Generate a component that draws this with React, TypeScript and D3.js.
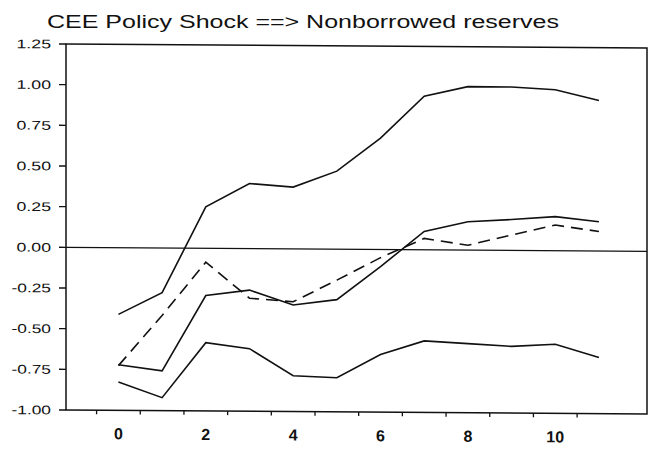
import React from "react";
import * as d3 from "d3";

const periods = [0, 1, 2, 3, 4, 5, 6, 7, 8, 9, 10, 11];
const upperBand = [-0.41, -0.275, 0.255, 0.4, 0.38, 0.48, 0.685, 0.945, 1.005, 1.005, 0.99, 0.925];
const pointEstimate = [-0.72, -0.755, -0.29, -0.255, -0.345, -0.31, -0.105, 0.113, 0.175, 0.19, 0.21, 0.18];
const alternative = [-0.725, -0.415, -0.085, -0.305, -0.325, -0.19, -0.05, 0.07, 0.03, 0.095, 0.158, 0.12];
const lowerBand = [-0.825, -0.92, -0.58, -0.615, -0.78, -0.79, -0.645, -0.56, -0.575, -0.59, -0.575, -0.655];
const yTicks = [1.25, 1.0, 0.75, 0.5, 0.25, 0.0, -0.25, -0.5, -0.75, -1.0];
const xLabels = [0, 2, 4, 6, 8, 10];
const xMinorTicks = [-0.5, 0.5, 1.5, 2.5, 3.5, 4.5, 5.5, 6.5, 7.5, 8.5, 9.5, 10.5];
const title = "CEE Policy Shock ==> Nonborrowed reserves";

const W = 656;
const H = 449;
const left = 66;
const right = 647;
const top = 44;
const bottom = 410;
const skewDeg = 0.4;

export default function App() {
  const x = d3.scaleLinear().domain([-1.2, 12.1]).range([left, right]);
  const y = d3.scaleLinear().domain([-1, 1.25]).range([bottom, top]);
  const line = d3
    .line<number>()
    .x((_, i) => x(periods[i]))
    .y((d) => y(d));

  const labelWidth = (s: string) => {
    let w = 0;
    for (const c of s) w += c === "." ? 4.5 : c === "-" ? 5 : 10;
    return w;
  };
  const t = Math.tan((skewDeg * Math.PI) / 180);

  return (
    <svg
      width={W}
      height={H}
      style={{ position: "absolute", left: 0, top: 0, background: "#fff" }}
      fontFamily="'Liberation Sans', Arial, sans-serif"
    >
      <rect x={0} y={0} width={W} height={H} fill="#fff" />
      <text
        x={47}
        y={28}
        fontSize={18}
        textLength={512}
        lengthAdjust="spacingAndGlyphs"
        fill="#111"
      >
        {title}
      </text>
      <g transform={`translate(0, ${-left * t}) skewY(${skewDeg})`}>
        <rect
          x={left}
          y={top}
          width={right - left}
          height={bottom - top}
          fill="none"
          stroke="#111"
          strokeWidth={1.5}
        />
        <line x1={left} x2={right} y1={y(0)} y2={y(0)} stroke="#111" strokeWidth={1.2} />
        {yTicks.map((v) => {
          const s = v.toFixed(2);
          return (
            <g key={s}>
              <line x1={left - 7} x2={left} y1={y(v)} y2={y(v)} stroke="#111" strokeWidth={1.4} />
              <text
                x={51}
                y={y(v) + 4.5}
                fontSize={12.5}
                textAnchor="end"
                textLength={labelWidth(s)}
                lengthAdjust="spacingAndGlyphs"
                fill="#111"
              >
                {s}
              </text>
            </g>
          );
        })}
        {xMinorTicks.map((v) => (
          <line key={v} x1={x(v)} x2={x(v)} y1={bottom} y2={bottom + 4} stroke="#111" strokeWidth={1.3} />
        ))}
        {xLabels.map((v) => (
          <text
            key={v}
            x={x(v)}
            y={bottom + 29}
            fontSize={16}
            fontWeight="bold"
            textAnchor="middle"
            fill="#111"
          >
            {v}
          </text>
        ))}
        <path d={line(upperBand) || ""} fill="none" stroke="#111" strokeWidth={1.6} />
        <path d={line(pointEstimate) || ""} fill="none" stroke="#111" strokeWidth={1.6} />
        <path d={line(lowerBand) || ""} fill="none" stroke="#111" strokeWidth={1.6} />
        <path
          d={line(alternative) || ""}
          fill="none"
          stroke="#111"
          strokeWidth={1.6}
          strokeDasharray="12,7"
        />
      </g>
    </svg>
  );
}
